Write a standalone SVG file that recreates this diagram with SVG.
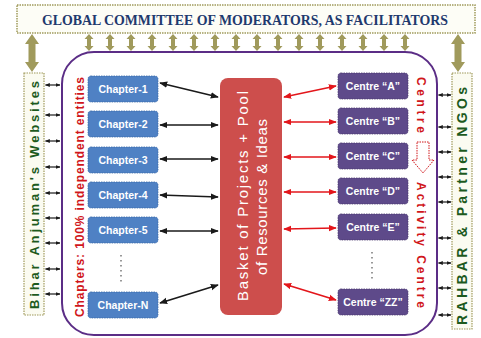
<svg xmlns="http://www.w3.org/2000/svg" width="481" height="338" viewBox="0 0 481 338">
<style>
.olive{fill:#a09a5c}
.side{fill:#fbfbf1;stroke:#a09a5c;stroke-width:1.2;stroke-dasharray:1.5 1}
.ch rect{fill:#4f81c4;stroke:#3b6aa8;stroke-width:0.8;stroke-dasharray:1.5 1}
.ce rect{fill:#5e4a8a;stroke:#4b3a70;stroke-width:0.8;stroke-dasharray:1.5 1}
.lbl{font-family:"Liberation Sans",Arial,sans-serif;font-weight:bold;font-size:10.5px;fill:#fff;text-anchor:middle}
.blk{stroke:#1a1a1a;stroke-width:1.6;fill:none;marker-start:url(#mb);marker-end:url(#mb)}
.red{stroke:#e3161b;stroke-width:1.6;fill:none;marker-start:url(#mr);marker-end:url(#mr)}
.sm{stroke:#1a1a1a;stroke-width:1.2;fill:none;marker-start:url(#ms);marker-end:url(#ms)}
.vtxt{font-family:"Liberation Sans",Arial,sans-serif;font-weight:bold;text-anchor:middle}
.bt{font-family:"Liberation Sans",Arial,sans-serif;font-size:15px;fill:#fff;text-anchor:middle}
.dots{stroke:#555;stroke-width:1.2;stroke-dasharray:1.5 3.5}
</style>
<defs>
<marker id="mb" viewBox="0 0 10 10" refX="9" refY="5" markerWidth="5" markerHeight="5" orient="auto-start-reverse"><path d="M0,1 L10,5 L0,9 z" fill="#1a1a1a"/></marker>
<marker id="mr" viewBox="0 0 10 10" refX="9" refY="5" markerWidth="5" markerHeight="5" orient="auto-start-reverse"><path d="M0,1 L10,5 L0,9 z" fill="#e3161b"/></marker>
<marker id="ms" viewBox="0 0 10 10" refX="9" refY="5" markerWidth="4" markerHeight="4" orient="auto-start-reverse"><path d="M0,1 L10,5 L0,9 z" fill="#1a1a1a"/></marker>
<path id="sa" d="M0,34 L4.5,39 L2,39 L2,46 L4.5,46 L0,51 L-4.5,46 L-2,46 L-2,39 L-4.5,39 Z"/>
<path id="ba" d="M0,34 L7,44 L3.5,44 L3.5,62 L7,62 L0,72 L-7,62 L-3.5,62 L-3.5,44 L-7,44 Z"/>
</defs>
<rect width="481" height="338" fill="#fff"/>

<g id="committee">
<rect x="17" y="5" width="458" height="28" fill="#fdfdf6" stroke="#a09a5c" stroke-width="1.5" stroke-dasharray="1.5 1"/>
<text x="245" y="24.5" font-family="Liberation Serif,serif" font-weight="bold" font-size="15" fill="#1f3a6e" text-anchor="middle" textLength="406" lengthAdjust="spacingAndGlyphs">GLOBAL COMMITTEE OF MODERATORS, AS FACILITATORS</text>
</g>

<g id="websites">
<rect class="side" x="24" y="73" width="20" height="242"/>
<text class="vtxt" transform="translate(39,195) rotate(-90)" font-size="13" fill="#1d5a1d" textLength="228">Bihar Anjuman's Websites</text>
</g>

<g id="ngos">
<rect class="side" x="452" y="73" width="20" height="256"/>
<text class="vtxt" transform="translate(467,206) rotate(-90)" font-size="14" fill="#1d5a1d" textLength="238">RAHBAR &amp; Partner NGOs</text>
</g>

<g id="frame">
<rect x="62" y="52" width="375" height="283" rx="32" ry="32" fill="#fff" stroke="#5b2d86" stroke-width="2"/>
<text class="vtxt" transform="translate(84,197) rotate(-90)" font-size="12" fill="#d0161b" textLength="240">Chapters: 100% independent entities</text>
<text class="vtxt" transform="translate(417,105) rotate(90)" font-size="12" fill="#d0161b" textLength="56">Centre</text>
<polygon points="417,142 429,142 429,160 434,160 423,173 412,160 417,160" fill="#fff" stroke="#d0161b" stroke-width="1" stroke-dasharray="1.5 1"/>
<text class="vtxt" transform="translate(417,245) rotate(90)" font-size="12" fill="#d0161b" textLength="126">Activity Centre</text>
</g>

<g id="basket">
<rect x="220" y="78" width="62" height="237" rx="8" fill="#cd4e4c"/>
<text class="bt" transform="translate(248,196) rotate(-90)" textLength="210">Basket of Projects + Pool</text>
<text class="bt" transform="translate(267,197) rotate(-90)" textLength="156">of Resources &amp; Ideas</text>
</g>

<g id="chapter-1" class="ch"><rect x="88" y="76" width="70" height="26" rx="3"/><text class="lbl" x="123" y="93">Chapter-1</text></g>
<g id="chapter-2" class="ch"><rect x="88" y="111" width="70" height="26" rx="3"/><text class="lbl" x="123" y="128">Chapter-2</text></g>
<g id="chapter-3" class="ch"><rect x="88" y="147" width="70" height="26" rx="3"/><text class="lbl" x="123" y="164">Chapter-3</text></g>
<g id="chapter-4" class="ch"><rect x="88" y="182" width="70" height="26" rx="3"/><text class="lbl" x="123" y="199">Chapter-4</text></g>
<g id="chapter-5" class="ch"><rect x="88" y="217" width="70" height="26" rx="3"/><text class="lbl" x="123" y="234">Chapter-5</text></g>
<g id="chapter-n" class="ch"><rect x="88" y="292" width="70" height="26" rx="3"/><text class="lbl" x="123" y="309">Chapter-N</text></g>

<g id="centre-a" class="ce"><rect x="338" y="73" width="70" height="26" rx="3"/><text class="lbl" x="373" y="90">Centre “A”</text></g>
<g id="centre-b" class="ce"><rect x="338" y="108" width="70" height="26" rx="3"/><text class="lbl" x="373" y="125">Centre “B”</text></g>
<g id="centre-c" class="ce"><rect x="338" y="143" width="70" height="26" rx="3"/><text class="lbl" x="373" y="160">Centre “C”</text></g>
<g id="centre-d" class="ce"><rect x="338" y="178" width="70" height="26" rx="3"/><text class="lbl" x="373" y="195">Centre “D”</text></g>
<g id="centre-e" class="ce"><rect x="338" y="214" width="70" height="26" rx="3"/><text class="lbl" x="373" y="231">Centre “E”</text></g>
<g id="centre-zz" class="ce"><rect x="338" y="289" width="70" height="26" rx="3"/><text class="lbl" x="373" y="306">Centre “ZZ”</text></g>

<g id="connectors">
<g class="olive">
<use href="#ba" x="32"/><use href="#ba" x="458"/>
<use href="#sa" x="89"/><use href="#sa" x="110"/><use href="#sa" x="131"/><use href="#sa" x="152"/>
<use href="#sa" x="173"/><use href="#sa" x="194"/><use href="#sa" x="215"/><use href="#sa" x="236"/>
<use href="#sa" x="257"/><use href="#sa" x="278"/><use href="#sa" x="299"/><use href="#sa" x="320"/>
<use href="#sa" x="342"/><use href="#sa" x="363"/><use href="#sa" x="384"/><use href="#sa" x="405"/>
</g>
<line class="blk" x1="160" y1="83" x2="218" y2="97"/>
<line class="blk" x1="160" y1="125" x2="218" y2="125"/>
<line class="blk" x1="160" y1="159" x2="218" y2="159"/>
<line class="blk" x1="160" y1="195" x2="218" y2="197"/>
<line class="blk" x1="160" y1="231" x2="218" y2="231"/>
<line class="blk" x1="160" y1="303" x2="218" y2="285"/>
<line class="red" x1="284" y1="97" x2="336" y2="86"/>
<line class="red" x1="284" y1="122" x2="336" y2="122"/>
<line class="red" x1="284" y1="157" x2="336" y2="157"/>
<line class="red" x1="284" y1="192" x2="336" y2="192"/>
<line class="red" x1="284" y1="229" x2="336" y2="228"/>
<line class="red" x1="284" y1="284" x2="336" y2="300"/>
<line class="dots" x1="121" y1="255" x2="121" y2="284"/>
<line class="dots" x1="372" y1="252" x2="372" y2="279"/>
<line class="sm" x1="45.5" y1="85" x2="60" y2="85"/>
<line class="sm" x1="45.5" y1="115" x2="60" y2="115"/>
<line class="sm" x1="45.5" y1="141" x2="60" y2="141"/>
<line class="sm" x1="45.5" y1="167" x2="60" y2="167"/>
<line class="sm" x1="45.5" y1="193" x2="60" y2="193"/>
<line class="sm" x1="45.5" y1="218" x2="60" y2="218"/>
<line class="sm" x1="45.5" y1="243" x2="60" y2="243"/>
<line class="sm" x1="45.5" y1="269" x2="60" y2="269"/>
<line class="sm" x1="45.5" y1="294" x2="60" y2="294"/>
<line class="sm" x1="438.5" y1="95" x2="451" y2="95"/>
<line class="sm" x1="438.5" y1="127" x2="451" y2="127"/>
<line class="sm" x1="438.5" y1="152" x2="451" y2="152"/>
<line class="sm" x1="438.5" y1="177" x2="451" y2="177"/>
<line class="sm" x1="438.5" y1="202" x2="451" y2="202"/>
<line class="sm" x1="438.5" y1="238" x2="451" y2="238"/>
<line class="sm" x1="438.5" y1="263" x2="451" y2="263"/>
<line class="sm" x1="438.5" y1="288" x2="451" y2="288"/>
<line class="sm" x1="438.5" y1="315" x2="451" y2="315"/>
</g>
</svg>
